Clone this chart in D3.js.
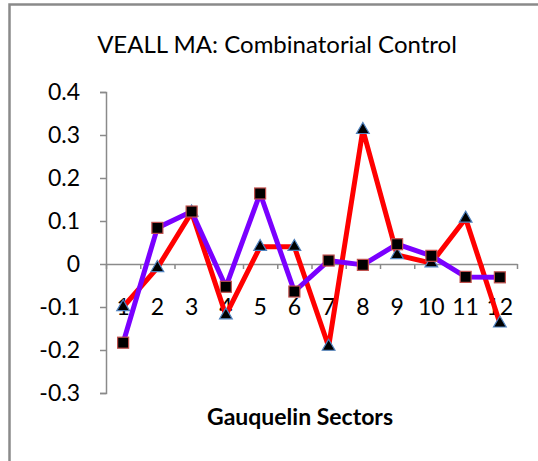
<!DOCTYPE html>
<html>
<head>
<meta charset="utf-8">
<script src="https://cdn.jsdelivr.net/npm/d3@7"></script>
<style>
  body { margin: 0; background: #fff; }
  svg { display: block; }
</style>
</head>
<body>
<div id="chart"></div>
<script>
// Chart data
const sectors = [1, 2, 3, 4, 5, 6, 7, 8, 9, 10, 11, 12];
const redValues = [-0.10, -0.009, 0.12, -0.119, 0.04, 0.04, -0.192, 0.312, 0.021, 0.002, 0.106, -0.138];
const purpleValues = [-0.183, 0.084, 0.122, -0.053, 0.164, -0.064, 0.008, -0.002, 0.046, 0.019, -0.030, -0.031];
const yTicks = [0.4, 0.3, 0.2, 0.1, 0, -0.1, -0.2, -0.3];
const titleText = "VEALL MA: Combinatorial Control";
const xTitleText = "Gauquelin Sectors";

const width = 538;
const height = 461;
const margin = { top: 92, right: 21, bottom: 68, left: 106 };
const font = "Lato, 'Open Sans', sans-serif";

const svg = d3.select("#chart")
    .append("svg")
    .attr("width", width)
    .attr("height", height);

// outer chart frame (runs off the right and bottom edges)
svg.append("rect")
    .attr("x", 9.5)
    .attr("y", 4.5)
    .attr("width", 700)
    .attr("height", 700)
    .attr("fill", "none")
    .attr("stroke", "#8a8a8a")
    .attr("stroke-width", 2.5);

const x = d3.scaleBand()
    .domain(sectors)
    .range([margin.left, width - margin.right])
    .padding(0);

// category boundaries for the tick marks
const xEdges = d3.scaleLinear()
    .domain([0, sectors.length])
    .range([margin.left, width - margin.right]);

const y = d3.scaleLinear()
    .domain([-0.3, 0.4])
    .range([height - margin.bottom, margin.top]);

// Y axis
const yAxis = svg.append("g")
    .attr("transform", `translate(${margin.left}, 0)`)
    .call(d3.axisLeft(y)
        .tickValues(yTicks)
        .tickSize(6)
        .tickPadding(20)
        .tickFormat(d => d === 0 ? "0" : d.toFixed(1).replace("\u2212", "-")));
yAxis.select(".domain").attr("stroke", "#8a8a8a").attr("stroke-width", 1.5);
yAxis.selectAll(".tick line").attr("stroke", "#8a8a8a").attr("stroke-width", 1.5);
yAxis.selectAll(".tick text")
    .attr("font-family", font)
    .attr("font-size", 23)
    .attr("fill", "#000");

// X axis line at zero with ticks between categories
const xAxisTicks = svg.append("g")
    .attr("transform", `translate(0, ${y(0)})`)
    .call(d3.axisBottom(xEdges)
        .tickValues(d3.range(sectors.length + 1))
        .tickSize(5)
        .tickSizeOuter(0)
        .tickFormat(""));
xAxisTicks.select(".domain").attr("stroke", "#8a8a8a").attr("stroke-width", 1.5);
xAxisTicks.selectAll(".tick line").attr("stroke", "#8a8a8a").attr("stroke-width", 1.5);

// category labels
const xLabels = svg.append("g")
    .attr("transform", `translate(0, ${y(0)})`)
    .call(d3.axisBottom(x).tickSize(0).tickPadding(35));
xLabels.select(".domain").remove();
xLabels.selectAll(".tick text")
    .attr("font-family", font)
    .attr("font-size", 23)
    .attr("fill", "#000");

const line = d3.line()
    .x((d, i) => x(sectors[i]) + x.bandwidth() / 2)
    .y(d => y(d));

// red series with triangle markers
svg.append("path")
    .datum(redValues)
    .attr("d", line)
    .attr("fill", "none")
    .attr("stroke", "#ff0000")
    .attr("stroke-width", 5)
    .attr("stroke-linejoin", "round");

svg.selectAll(".tri")
    .data(redValues)
    .enter()
    .append("path")
    .attr("class", "tri")
    .attr("d", d3.symbol().type(d3.symbolTriangle).size(70))
    .attr("transform", (d, i) => `translate(${x(sectors[i]) + x.bandwidth() / 2}, ${y(d)})`)
    .attr("fill", "#000")
    .attr("stroke", "#4f81bd")
    .attr("stroke-width", 1.2);

// purple series with square markers
svg.append("path")
    .datum(purpleValues)
    .attr("d", line)
    .attr("fill", "none")
    .attr("stroke", "#7a00ff")
    .attr("stroke-width", 5)
    .attr("stroke-linejoin", "round");

svg.selectAll(".sq")
    .data(purpleValues)
    .enter()
    .append("rect")
    .attr("class", "sq")
    .attr("x", (d, i) => x(sectors[i]) + x.bandwidth() / 2 - 5.5)
    .attr("y", d => y(d) - 5.5)
    .attr("width", 11)
    .attr("height", 11)
    .attr("fill", "#000")
    .attr("stroke", "#c0504d")
    .attr("stroke-width", 1.2);

// titles
svg.append("text")
    .attr("x", 277)
    .attr("y", 53)
    .attr("text-anchor", "middle")
    .attr("font-family", font)
    .attr("font-size", 24)
    .attr("fill", "#000")
    .text(titleText);

svg.append("text")
    .attr("x", 300)
    .attr("y", 425)
    .attr("text-anchor", "middle")
    .attr("font-family", font)
    .attr("font-weight", "bold")
    .attr("font-size", 23)
    .attr("fill", "#000")
    .text(xTitleText);
</script>
</body>
</html>
